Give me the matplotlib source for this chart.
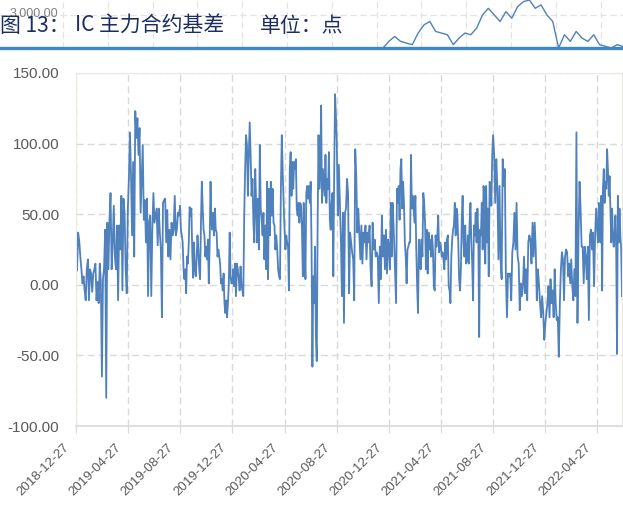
import matplotlib
matplotlib.use('Agg')
import matplotlib.pyplot as plt
import matplotlib.transforms as mtrans
import numpy as np
import pandas as pd

plt.rcParams['font.family'] = ['Liberation Sans', 'DejaVu Sans']

# IC 主力合约基差, one list per 4-month gridline span
bounds = ['2018-12-27', '2019-04-27', '2019-08-27', '2019-12-27', '2020-04-27',
          '2020-08-27', '2020-12-27', '2021-04-27', '2021-08-27', '2021-12-27',
          '2022-04-27', '2022-06-24']

seg1 = [38, 10, 37, 31, 20, 11, 1, 6, -4, -11, 11, 18, -11, 11, 8, -5, 8, 11, 15, -11,
        2, -13, 15, 3, -65, 4, 12, 39, -80, 44, 11, 46, 65, 11, 30, 56, 20, 11, 42, -11,
        42, 25, 63, -4, 61, 51, 11, -6]
seg2 = [53, 75, 108, 77, 35, 87, 20, 123, 104, 118, 92, 111, 51, 75, 99, 46, 60, 30, 61, -8,
        45, 49, -8, 40, 65, 44, 49, 54, 28, 54, 37, 25, -23, 58, 60, 61, 30, 53, 20, 39,
        18, 44, 35, 39, 63, 35, 39, 51, 49]
seg3 = [56, 39, 35, 30, 11, 4, 11, -6, 20, 15, 30, 55, 49, 54, 23, 5, 30, 11, 6, 18,
        35, 25, 11, 4, 44, 73, 54, 39, 35, 20, 27, 18, 32, 1, 30, 73, 44, 39, 51, 35,
        54, 39, 37, 20, 25, 20, 15, 1, 4, -4, 8, -13, -20, -11, -23, -13, 1, 37, 6, 1]
seg4 = [1, 11, -1, 15, -8, 15, 11, 4, -4, 13, 1, -4, -8, 49, 82, 106, 99, 63, 92, 115,
        92, 63, 75, 44, 30, 82, 58, 30, 61, 25, 99, 54, 46, 35, 51, 18, 42, 11, 73, 4,
        68, 35, 73, 49, 68, 44, 42, 25, 35, 25, 11, 6, 4, 68, 106, 80, 58]
seg5 = [39, 25, 35, 30, 27, -4, 82, 94, 63, 87, 68, 87, 82, 89, 54, 49, 58, 44, 58, 56,
        39, 6, 58, 25, 4, 65, 70, 61, 70, 58, 73, 27, -58, 6, -13, 27, -37, -54, 44, 106,
        68, 82, 127, 58, 82, 73, 63, 92, 58, 75, 68, 94, 46, 39, 58, 65, 6, 77, 135, 120]
seg6 = [101, 49, 85, 58, 32, -8, 51, -27, 51, 54, 75, 65, -6, 37, 30, 23, 18, -11, 96, 77,
        37, 54, 35, 18, 42, 15, 37, 30, 42, 18, 37, 30, 42, 11, -1, 44, 25, 32, 20, 23,
        20, -13, 27, 4, 49, 20, 35, 11, 39, 8, 32]
seg7 = [25, 11, 58, 20, 58, 44, 27, 6, -13, 68, 58, 70, 46, 82, 89, 54, 73, 58, 30, 20,
        1, 25, 27, 30, 30, 92, 54, 63, 54, 44, 63, 25, -1, -20, 32, 25, 11, 32, 20, 65,
        58, 44, 11, 39, 8, 37, 25, 32, 20, 35, 25, -1, -4, 35, 27, 35, 49, 23, 30]
seg8 = [27, 20, 23, 18, 11, 30, 18, 32, 35, -1, -4, -13, 20, 32, 39, 42, 58, 35, 54, 49,
        30, 4, -4, 11, 46, 63, 30, 20, 42, 15, 18, 35, 15, 44, 58, 30, 15, -11, 42, 35,
        51, 30, 54, 35, -37, 39, 35, 58, 25, 70, 63, 15, 70, 30, 54, 6, 73, 70, 56, 92]
seg9 = [106, 92, 58, 89, 68, 18, 70, 18, 4, 89, 70, 82, 6, -23, 8, 6, 8, -11, 23, 30,
        51, 25, 58, 20, 15, -18, 1, -8, -1, 20, -6, 11, -11, 30, 35, 32, 15, 44, 20, 44,
        25, -11, 11, 1, -13, -23, -8, -20, -39]
seg10 = [-27, -20, -13, -1, -23, 4, -13, -4, -23, 11, -13, -25, -23, -51, -13, 11, 23, 18, -11, 20,
         25, 23, 6, 15, 1, 18, -1, -11, 11, -8, 108, -27, 35, 73, 54, 27, 27, 1, 27, 20,
         4, 27, -25, 35, 39, 25, 37, -1, 35, 54]
seg11 = [39, 30, 58, 35, 30, 63, -4, 68, 82, 58, 73, 68, 96, 82, 63, 77, 54, 30, 54, 35,
         27, 35, 49, 25, -49, 63, 30, 54, 35, 25, -8]

# bit of the neighbouring chart that shows in the header strip (top right)
mini_vals = [0, 20, 35, 20, 15, 10, 45, 70, 80, 50, 45, 40, 10, 30, 45, 40, 60, 100, 120, 100,
             80, 110, 90, 125, 140, 145, 120, 130, 100, 80, 0, 40, 20, 50, 30, 20, 40, 10, 5, 0,
             10, 5]

tick_labels = bounds[:-1]

segs = [seg1, seg2, seg3, seg4, seg5, seg6, seg7, seg8, seg9, seg10, seg11]
dates = []
vals = []
for i, s in enumerate(segs):
    last = i == len(segs) - 1
    d = pd.date_range(bounds[i], bounds[i + 1], periods=len(s) + (0 if last else 1))
    if not last:
        d = d[:-1]
    dates.extend(d)
    vals.extend(s)

W, H = 623, 518
fig = plt.figure(figsize=(W / 100, H / 100), dpi=100)

# header strip with faint grid of the other chart
hax = fig.add_axes([0, 1 - 48 / H, 1, 48 / H])
hax.set_xlim(0, W)
hax.set_ylim(48, 0)
hax.set_xticks(np.arange(63, W, 44.8))
hax.set_yticks([15])
hax.grid(True, color='#e3e3e3', linestyle=(0, (5, 3)), linewidth=0.9)
hax.tick_params(length=0, labelbottom=False, labelleft=False)
for sp in hax.spines.values():
    sp.set_visible(False)
hax.text(10, 14, '3,000.00', color='#7f7f7f', fontsize=9, va='center')

max_ = fig.add_axes([383 / W, 1 - 48 / H, 240 / W, 48 / H])
max_.plot(range(len(mini_vals)), mini_vals, color='#4f81bd', lw=1.0)
max_.set_xlim(0, len(mini_vals) - 1)
max_.set_ylim(0, 145)
max_.axis('off')

hax.axhline(48, color='#3f86c7', lw=2.4, clip_on=False)
title_col = '#1c2d62'
cjk = ['Noto Sans CJK SC', 'DejaVu Sans']
hax.text(0, 26, '图 13：', family=cjk, fontsize=15, color=title_col, va='center')
hax.text(75, 26, 'IC 主力合约基差', family=cjk, fontsize=15, color=title_col, va='center')
hax.text(260, 26, '单位：点', family=cjk, fontsize=15, color=title_col, va='center')

# main chart
ax = fig.add_axes([76 / W, 92 / H, 546 / W, (426 - 73) / H])
ax.plot(dates, vals, color='#4f81bd', lw=1.3)
ax.set_ylim(-100, 150)
ax.set_yticks(np.arange(-100, 151, 50))
ax.yaxis.set_major_formatter(plt.FuncFormatter(lambda v, p: '%.2f' % v))
ax.set_xlim(pd.Timestamp(bounds[0]), pd.Timestamp(bounds[-1]))
ax.set_xticks(pd.to_datetime(tick_labels))
ax.set_xticklabels(tick_labels, rotation=45, ha='right', va='top', rotation_mode='anchor')
ax.grid(True, color='#d9d9d9', linestyle=(0, (5, 3)), linewidth=1.0)
ax.set_axisbelow(True)
ax.tick_params(axis='y', length=0, pad=12, labelsize=11, labelcolor='#595959')
ax.tick_params(axis='x', length=5, color='#d9d9d9', pad=3, labelsize=9.5, labelcolor='#595959')
for sp in ['top', 'right']:
    ax.spines[sp].set_color('#ebe8e2')
ax.spines['left'].set_color('#ede9dc')
ax.spines['bottom'].set_color('#d9d9d9')
ax.spines['bottom'].set_linewidth(1.2)

off = mtrans.ScaledTranslation(-9 / 72, -3 / 72, fig.dpi_scale_trans)
for lab in ax.get_xticklabels():
    lab.set_transform(lab.get_transform() + off)

fig.savefig('out.png', dpi=100)
